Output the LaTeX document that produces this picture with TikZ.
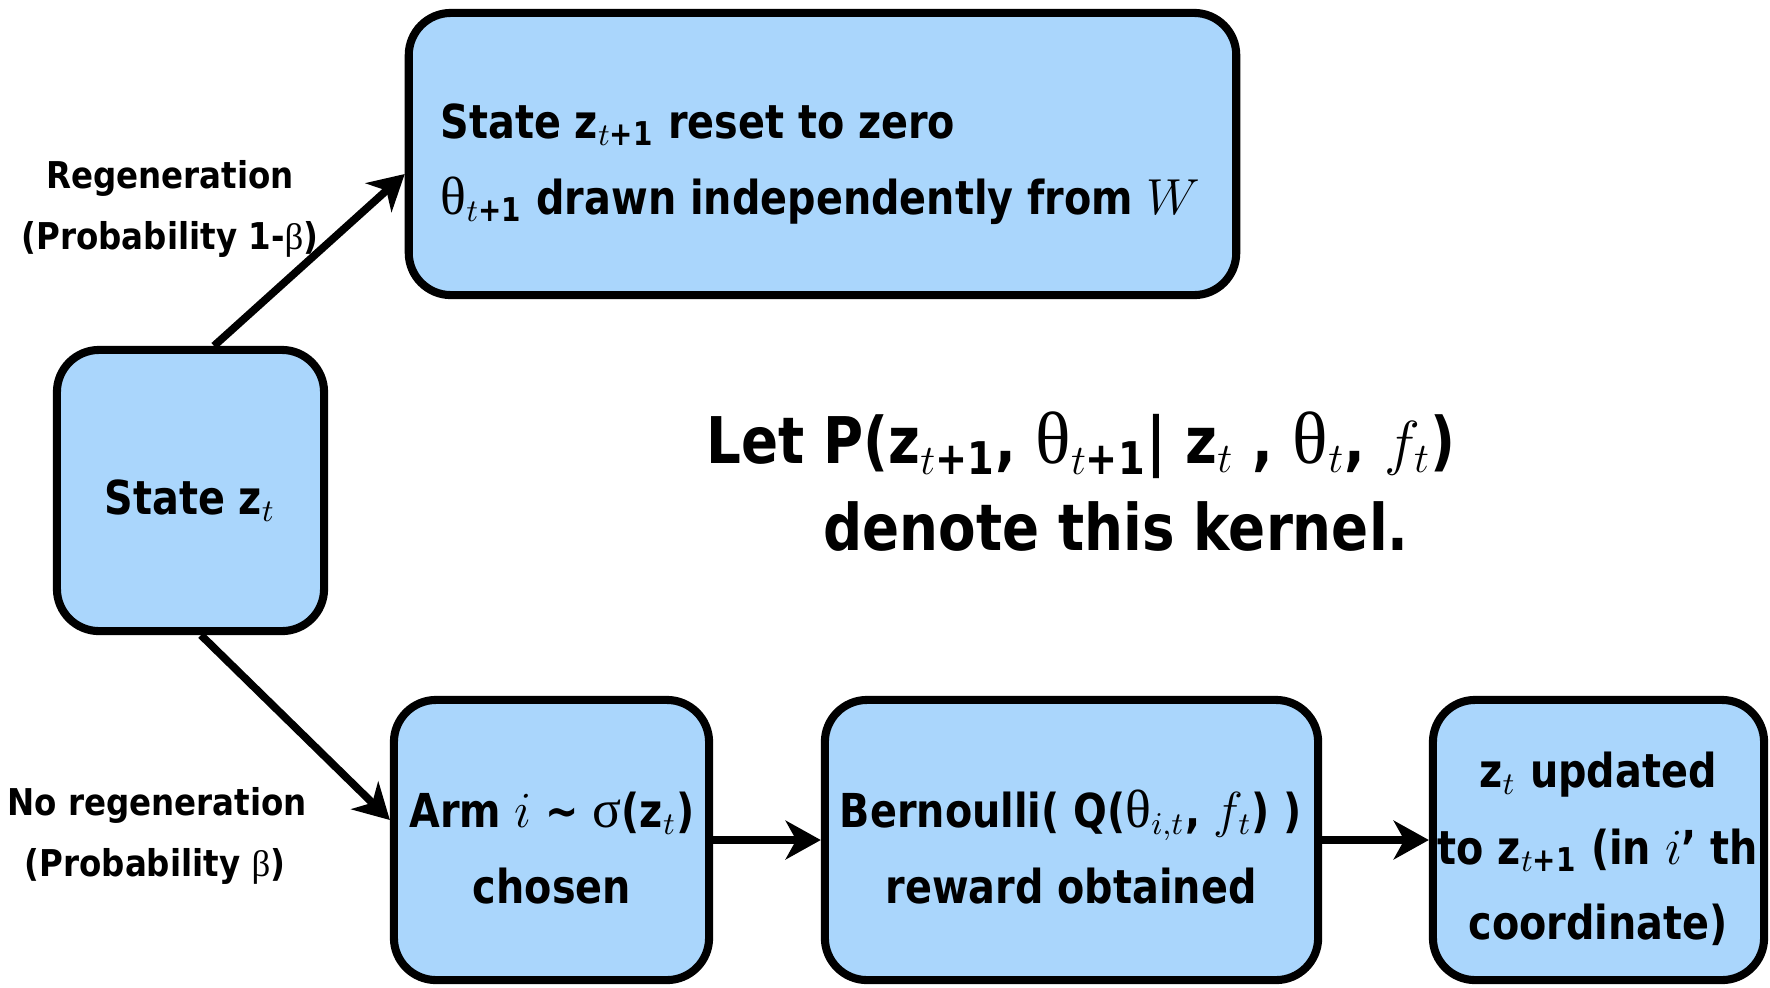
\documentclass[tikz,border=0pt]{standalone}
\usepackage{amsmath}
\usepackage{fontspec}
\setmainfont{DejaVu Sans}[FakeStretch=0.85]
\newfontfamily\lblfont{DejaVu Sans}[FakeStretch=0.88]
\newfontfamily\gk{Liberation Serif}
\usetikzlibrary{arrows.meta}
\definecolor{boxfill}{RGB}{170,214,252}
\newcommand{\gth}{{\gk\mdseries\scalebox{1.15}{θ}}}
\newcommand{\gsig}{{\gk\mdseries\scalebox{1.15}{σ}}}
\newcommand{\gbet}{{\gk\mdseries β}}
\tikzset{
 box/.style={draw=black, line width=2.3pt, fill=boxfill, rounded corners=12pt, inner sep=0pt},
 txt/.style={font=\fontsize{13.3}{16}\selectfont\bfseries, anchor=base, inner sep=0pt},
 lbl/.style={font=\lblfont\fontsize{10.5}{12}\selectfont\bfseries, anchor=base, inner sep=0pt},
 big/.style={font=\fontsize{18.3}{20}\selectfont\bfseries, anchor=base, inner sep=0pt},
 arr/.style={line width=2.2pt, -{Stealth[length=10pt,width=11pt,inset=3pt]}},
}
\begin{document}
\begin{tikzpicture}[x=0.01cm,y=-0.01cm]
\useasboundingbox (0,0) rectangle (1770,987);
\node[box, minimum width=8.27cm, minimum height=2.82cm] (top) at (822.5,154) {};
\node[box, minimum width=2.67cm, minimum height=2.81cm] (state) at (190.5,490.5) {};
\node[box, minimum width=3.15cm, minimum height=2.80cm] (arm) at (551.5,840) {};
\node[box, minimum width=4.93cm, minimum height=2.80cm] (bern) at (1071.5,840) {};
\node[box, minimum width=3.31cm, minimum height=2.80cm] (upd) at (1598.5,840) {};

\node[txt, anchor=base west] (t1) at (440,138) {State z$_{t\text{+1}}$ reset to zero};
\node[txt, anchor=base west] (t2) at (440,214) {\gth$_{t\text{+1}}$ drawn independently from $W$};
\node[txt] (s1) at (190,514) {State z$_t$};
\node[lbl] (l1) at (170,188) {Regeneration};
\node[lbl] (l2) at (170,249) {(Probability 1-\gbet)};
\node[lbl] (l3) at (157,815) {No regeneration};
\node[lbl] (l4) at (155,876) {(Probability \gbet)};
\node[txt] (a1) at (552,827) {Arm $i$ \textasciitilde{} \gsig(z$_t$)};
\node[txt] (a2) at (552,903) {chosen};
\node[txt] (b1) at (1071,827) {Bernoulli( Q(\gth$_{i,t}$, $f_t$) )};
\node[txt] (b2) at (1071,903) {reward obtained};
\node[txt] (u1) at (1598,787) {z$_t$ updated};
\node[txt] (u2) at (1598,864) {to z$_{t\text{+1}}$ (in $i$’ th};
\node[txt] (u3) at (1598,939) {coordinate)};
\node[big] (k1) at (1081,463) {Let P(z$_{t\text{+1}}$, \gth$_{t\text{+1}}$| z$_t$ , \gth$_t$, $f_t$)};
\node[big] (k2) at (1116,550) {denote this kernel.};

\draw[arr] ([xshift=0.235cm]state.north) -- ([yshift=-0.2cm]top.west);
\draw[arr] ([xshift=0.105cm]state.south) -- ([yshift=0.2cm]arm.west);
\draw[arr] (arm) -- (bern);
\draw[arr] (bern) -- (upd);
\end{tikzpicture}
\end{document}
